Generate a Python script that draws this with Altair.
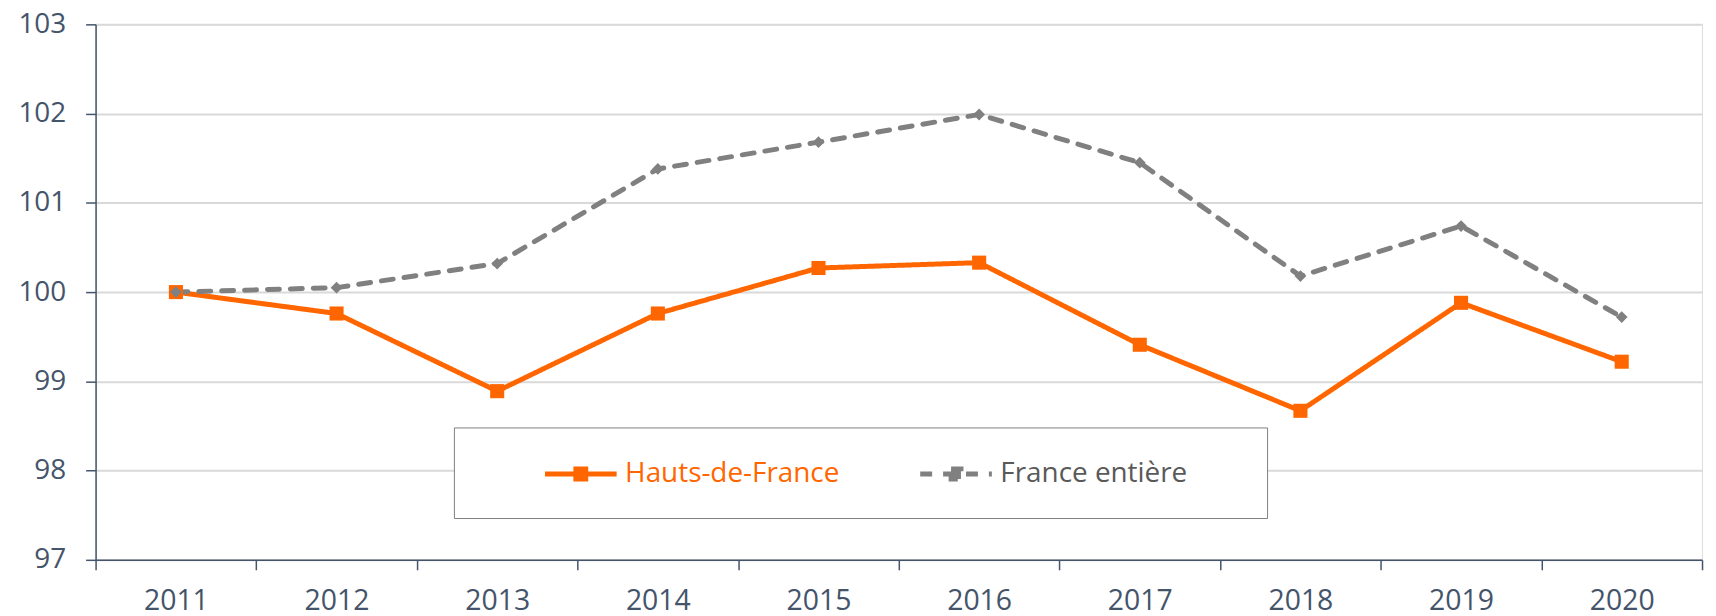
import altair as alt
import pandas as pd

years = list(range(2011, 2021))
hauts_de_france = [100.0, 99.76, 98.89, 99.76, 100.27, 100.33, 99.41, 98.67, 99.88, 99.22]
france_entiere = [100.0, 100.05, 100.32, 101.38, 101.68, 101.99, 101.45, 100.18, 100.74, 99.72]
series_names = ["Hauts-de-France", "France entière"]
series_colors = ["#FF6600", "#808080"]
y_ticks = [97, 98, 99, 100, 101, 102, 103]

df = pd.DataFrame({
    "year": years * 2,
    "value": hauts_de_france + france_entiere,
    "series": [series_names[0]] * len(years) + [series_names[1]] * len(years),
})

W, H = 1614, 538
FONT = "Open Sans"
TXT = "#44546A"
band = W / len(years)

x_ticks = [years[0] - 0.5 + i for i in range(len(years) + 1)]

x_enc = alt.X(
    "year:Q",
    scale=alt.Scale(domain=[years[0] - 0.5, years[-1] + 0.5], nice=False, zero=False),
    axis=alt.Axis(
        values=x_ticks,
        labelExpr=f"datum.value > {years[-1]} ? '' : format(datum.value + 0.5, 'd')",
        labelOffset=band / 2,
        labelFlush=False,
        labelOverlap=False,
        grid=False,
        title=None,
        labelFont=FONT,
        labelFontSize=28.5,
        labelColor=TXT,
        labelPadding=17,
        tickSize=10,
        tickColor=TXT,
        tickWidth=1.5,
        domainColor=TXT,
        domainWidth=1.5,
    ),
)
y_enc = alt.Y(
    "value:Q",
    scale=alt.Scale(domain=[97, 103], nice=False, zero=False),
    axis=alt.Axis(
        values=y_ticks,
        format="d",
        title=None,
        labelFont=FONT,
        labelFontSize=28,
        labelColor=TXT,
        labelPadding=20,
        labelFlush=False,
        tickSize=10,
        tickColor=TXT,
        tickWidth=1.5,
        domainColor=TXT,
        domainWidth=1.5,
        grid=True,
        gridColor="#D9D9D9",
        gridWidth=2,
    ),
)

# legend symbol: a line with a marker in its middle
PATH = "M-2.4,0L2.4,0M-0.33,-0.33L0.33,-0.33L0.33,0.33L-0.33,0.33Z"
legend = alt.Legend(
    title=" ",
    titleOrient="right",
    titlePadding=51,
    titleFontSize=10,
    orient="none",
    legendX=360,
    legendY=405,
    direction="horizontal",
    columns=2,
    symbolType=PATH,
    symbolSize=900,
    symbolStrokeWidth=5,
    labelFont=FONT,
    labelFontSize=28,
    labelLimit=500,
    labelColor=alt.ExprRef(f"datum.value == '{series_names[0]}' ? '{series_colors[0]}' : '#595959'"),
    labelOffset=27,
    padding=29,
    strokeColor="#7F7F7F",
    fillColor="white",
    columnPadding=18,
    symbolOffset=81,
)

color = alt.Color("series:N", scale=alt.Scale(domain=series_names, range=series_colors), legend=legend)
dash = alt.StrokeDash("series:N", scale=alt.Scale(domain=series_names, range=[[1, 0], [12, 11]]), legend=legend)

base = alt.Chart(df)
lines = base.mark_line(strokeWidth=5, strokeCap="round").encode(x=x_enc, y=y_enc, color=color, strokeDash=dash)
pts_h = base.transform_filter(alt.datum.series == series_names[0]).mark_point(
    shape="square", filled=True, size=200, opacity=1
).encode(x=x_enc, y=y_enc, color=color)
pts_f = base.transform_filter(alt.datum.series == series_names[1]).mark_point(
    shape="diamond", filled=True, size=140, opacity=1
).encode(x=x_enc, y=y_enc, color=color)

chart = alt.layer(lines, pts_h, pts_f).properties(
    width=W,
    height=H,
    autosize=alt.AutoSizeParams(type="none"),
    padding={"left": 88, "top": 15, "right": 6, "bottom": 55},
).configure_view(stroke=None).configure(background="white")

chart.save("out.html", embed_options={"renderer": "svg", "actions": False})
